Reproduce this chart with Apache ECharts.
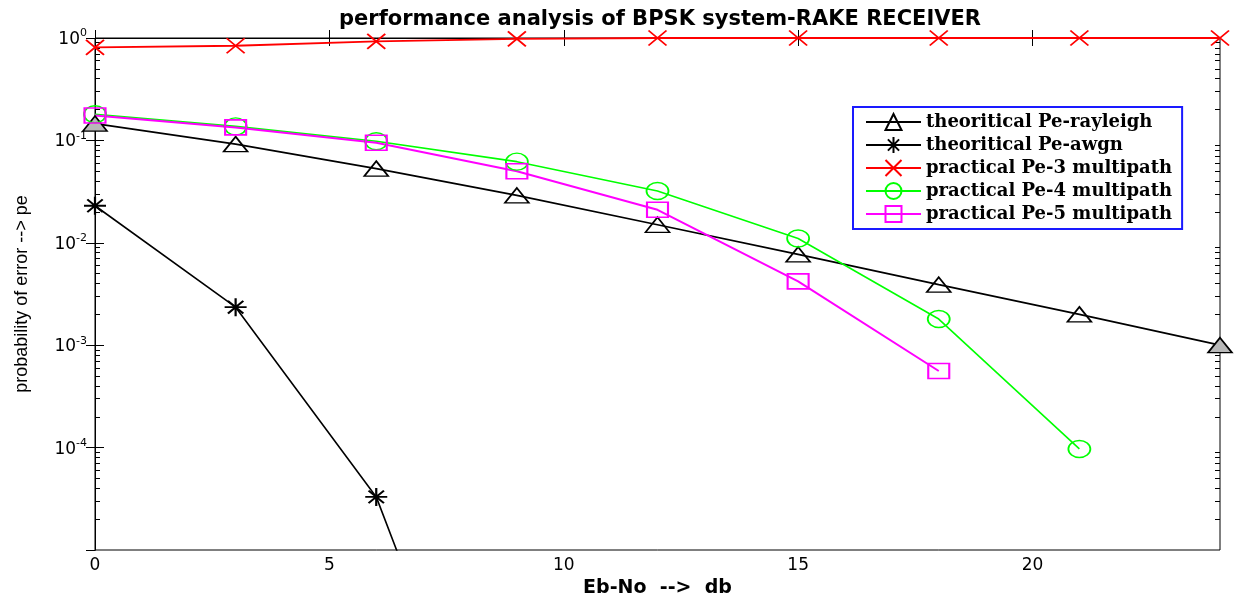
<!DOCTYPE html>
<html><head><meta charset="utf-8">
<script src="https://cdn.jsdelivr.net/npm/echarts@6/dist/echarts.min.js"></script>
<style>html,body{margin:0;padding:0;background:#fff}#c{width:1234px;height:596px}</style>
</head><body><div id="c"></div>
<script>
// ---- data ----
const ebno = [0, 3, 6, 9, 12, 15, 18, 21, 24];
const peRayleigh = [0.146, 0.092, 0.053, 0.029, 0.015, 0.0077, 0.0039, 0.002, 0.001];
const peAwgn = [0.023, 0.00235, 0.000033, 0.0000000085];
const pe3 = [0.81, 0.84, 0.926, 0.98, 1, 1, 1, 1, 1];
const pe4 = [0.18, 0.137, 0.098, 0.062, 0.032, 0.011, 0.0018, 0.000097];
const pe5 = [0.175, 0.134, 0.095, 0.050, 0.021, 0.0042, 0.00056];
const seriesNames = ['theoritical Pe-rayleigh', 'theoritical Pe-awgn', 'practical Pe-3 multipath', 'practical Pe-4 multipath', 'practical Pe-5 multipath'];
const xTicks = [0, 5, 10, 15, 20];

// ---- minor tick positions (log10 space) ----
const minorTicks = [];
for (let d = -5; d < 0; d++) for (let k = 2; k <= 9; k++) minorTicks.push(d + Math.log10(k));

const pts = vals => vals.map((v, i) => [ebno[i], v]);
const starPath = 'path://M0,-10L0,10M-10,0L10,0M-7,-7L7,7M-7,7L7,-7';
const crossPath = 'path://M-10,-10L10,10M-10,10L10,-10';

function mk(name, vals, color, symbol, size, lw, bw) {
  return {
    name, type: 'line', data: pts(vals), symbol, symbolSize: size,
    showAllSymbol: true, clip: true, animation: false,
    lineStyle: { color, width: lw },
    itemStyle: { color: 'rgba(255,255,255,0)', borderColor: color, borderWidth: bw },
    emphasis: { disabled: true }
  };
}

const rayleigh = mk(seriesNames[0], peRayleigh, '#000000', 'triangle', [24, 15], 1.7, 1.6);
// first and last triangles appear grey-filled in the reference
[0, peRayleigh.length - 1].forEach(i => {
  rayleigh.data[i] = { value: rayleigh.data[i], itemStyle: { color: '#b8b8b8' } };
});

const chart = echarts.init(document.getElementById('c'));
const axisFont = 'DejaVu Sans';
chart.setOption({
  animation: false,
  backgroundColor: '#fff',
  title: {
    text: 'performance analysis of BPSK system-RAKE RECEIVER',
    left: 655, top: 4, textAlign: 'center',
    textStyle: { fontFamily: 'DejaVu Sans', fontWeight: 'bold', fontSize: 21, color: '#000' }
  },
  grid: { left: 95, right: 14, top: 38, bottom: 46, show: true, borderColor: '#000', borderWidth: 1, containLabel: false, outerBoundsMode: 'none' },
  legend: {
    orient: 'vertical', left: 853, top: 107,
    backgroundColor: '#fff', borderColor: '#1a1aff', borderWidth: 2, borderRadius: 0,
    padding: [6, 10, 6, 12], itemWidth: 55, itemHeight: 20, itemGap: 5,
    textStyle: { fontFamily: 'DejaVu Serif', fontWeight: 'bold', fontSize: 18, color: '#000' },
    data: seriesNames
  },
  xAxis: [
    {
      type: 'value', min: 0, max: 24, interval: 5, position: 'bottom',
      name: 'Eb-No  -->  db', nameLocation: 'middle', nameGap: 27,
      nameTextStyle: { fontFamily: 'DejaVu Sans', fontWeight: 'bold', fontSize: 19, color: '#000' },
      axisLine: { lineStyle: { color: '#000', width: 1 } },
      axisTick: { inside: true, length: 8, lineStyle: { color: '#000' }, customValues: xTicks },
      axisLabel: { fontFamily: axisFont, fontSize: 17, color: '#000', margin: 7, customValues: xTicks },
      splitLine: { show: false }
    },
    {
      type: 'value', min: 0, max: 24, interval: 5, position: 'top',
      axisLine: { lineStyle: { color: '#000', width: 1 } },
      axisTick: { inside: true, length: 8, lineStyle: { color: '#000' }, customValues: xTicks },
      axisLabel: { show: false }, splitLine: { show: false }
    }
  ],
  yAxis: [
    {
      type: 'log', logBase: 10, min: 1e-5, max: 1, position: 'left',
      name: 'probability of error --> pe', nameLocation: 'middle', nameGap: 64, nameRotate: 90,
      nameTextStyle: { fontFamily: "'Liberation Sans Narrow', 'Liberation Sans', sans-serif", fontSize: 18, color: '#000' },
      axisLine: { lineStyle: { color: '#000', width: 1 } },
      axisTick: { inside: true, length: 9, lineStyle: { color: '#000' } },
      axisLabel: {
        showMinLabel: false, margin: 8, color: '#000',
        formatter: v => '{b|10}{s|' + Math.round(Math.log10(v)) + '}',
        rich: {
          b: { fontFamily: axisFont, fontSize: 17, color: '#000', verticalAlign: 'bottom', lineHeight: 20 },
          s: { fontFamily: axisFont, fontSize: 11, color: '#000', verticalAlign: 'top', lineHeight: 20 }
        }
      },
      splitLine: { show: false }
    },
    {
      type: 'log', logBase: 10, min: 1e-5, max: 1, position: 'right',
      axisLine: { lineStyle: { color: '#000', width: 1 } },
      axisTick: { inside: true, length: 9, lineStyle: { color: '#000' } },
      axisLabel: { show: false }, splitLine: { show: false }
    },
    {
      type: 'value', min: -5, max: 0, position: 'left',
      axisLine: { show: false },
      axisTick: { inside: true, length: 5, lineStyle: { color: '#000' }, customValues: minorTicks },
      axisLabel: { show: false }, splitLine: { show: false }
    },
    {
      type: 'value', min: -5, max: 0, position: 'right',
      axisLine: { show: false },
      axisTick: { inside: true, length: 5, lineStyle: { color: '#000' }, customValues: minorTicks },
      axisLabel: { show: false }, splitLine: { show: false }
    }
  ],
  series: [
    rayleigh,
    mk(seriesNames[1], peAwgn, '#000000', starPath, [22, 18], 1.6, 2),
    mk(seriesNames[2], pe3, '#ff0000', crossPath, [18, 15], 1.8, 1.8),
    mk(seriesNames[3], pe4, '#00ff00', 'circle', [22, 17], 1.6, 1.6),
    mk(seriesNames[4], pe5, '#ff00ff', 'rect', [21, 15], 2, 1.8)
  ]
});
</script></body></html>
